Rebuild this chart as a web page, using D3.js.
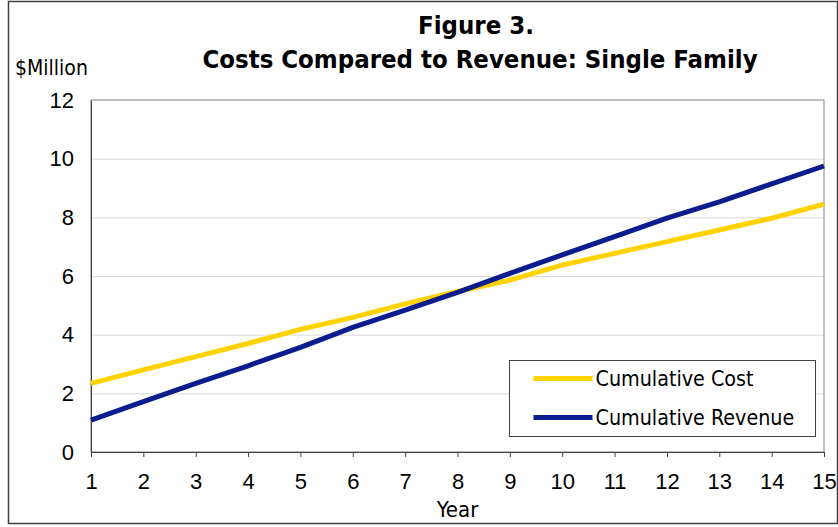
<!DOCTYPE html>
<html>
<head>
<meta charset="utf-8">
<script src="https://cdn.jsdelivr.net/npm/d3@7"></script>
<style>
  body { margin: 0; background: #fff; }
  svg { display: block; font-family: "DejaVu Sans Condensed", "DejaVu Sans", sans-serif; font-stretch: condensed; }
</style>
</head>
<body>
<div class="chartwrap"></div>
<script>
var width = 838, height = 527;

// data
var years = [1, 2, 3, 4, 5, 6, 7, 8, 9, 10, 11, 12, 13, 14, 15];
var cumulativeCost    = [2.34, 2.80, 3.25, 3.70, 4.18, 4.59, 5.05, 5.47, 5.86, 6.37, 6.77, 7.17, 7.57, 7.97, 8.45];
var cumulativeRevenue = [1.09, 1.72, 2.34, 2.94, 3.57, 4.25, 4.84, 5.44, 6.09, 6.72, 7.34, 7.97, 8.53, 9.14, 9.75];
var yTicks = [0, 2, 4, 6, 8, 10, 12];
var seriesNames = ["Cumulative Cost", "Cumulative Revenue"];
var seriesColors = ["#ffd200", "#0a1c8e"];

var margin = {top: 100, left: 91, right: 14, bottom: 75};
var pw = width - margin.left - margin.right,
    ph = height - margin.top - margin.bottom;

var svg = d3.select(".chartwrap").append("svg")
    .attr("width", width)
    .attr("height", height);

// outer frame
svg.append("rect")
    .attr("x", 8.5)
    .attr("y", 1.5)
    .attr("width", width - 9)
    .attr("height", 522)
    .attr("fill", "#fff")
    .attr("stroke", "#404040")
    .attr("stroke-width", 1.5);

var x = d3.scaleLinear()
    .domain([1, 15])
    .range([0, pw]);

var y = d3.scaleLinear()
    .domain([0, 12])
    .range([ph, 0]);

var g = svg.append("g")
    .attr("transform", "translate(" + margin.left + "," + margin.top + ")");

// gridlines
g.append("g")
    .attr("class", "grid")
    .call(d3.axisLeft(y).tickValues(yTicks.slice(1, -1)).tickSize(-pw).tickFormat(""))
    .call(function(s) {
        s.select(".domain").remove();
        s.selectAll(".tick line").attr("stroke", "#d9d9d9").attr("stroke-width", 1);
    });

// plot border
g.append("rect")
    .attr("width", pw)
    .attr("height", ph)
    .attr("fill", "none")
    .attr("stroke", "#808080")
    .attr("stroke-width", 1);

var xAxis = d3.axisBottom(x)
    .tickValues(years)
    .tickSize(5)
    .tickPadding(16)
    .tickFormat(d3.format("d"));

var yAxis = d3.axisLeft(y)
    .tickValues(yTicks)
    .tickSize(0)
    .tickPadding(17);

g.append("g")
    .attr("class", "x axis")
    .attr("transform", "translate(0," + ph + ")")
    .call(xAxis)
    .call(function(s) {
        s.select(".domain").attr("stroke", "#404040");
        s.selectAll(".tick line").attr("stroke", "#404040");
        s.selectAll("text").attr("fill", "#000").style("font-size", "22px")
            .attr("font-family", null);
    });

g.append("g")
    .attr("class", "y axis")
    .call(yAxis)
    .call(function(s) {
        s.select(".domain").attr("stroke", "#404040");
        s.selectAll("text").attr("fill", "#000").style("font-size", "22px")
            .attr("font-family", null);
    });

var line = d3.line()
    .x(function(d) { return x(d[0]); })
    .y(function(d) { return y(d[1]); });

var series = [cumulativeCost, cumulativeRevenue];
series.forEach(function(vals, i) {
    g.append("path")
        .datum(years.map(function(yr, j) { return [yr, vals[j]]; }))
        .attr("fill", "none")
        .attr("stroke", seriesColors[i])
        .attr("stroke-width", 5)
        .attr("d", line);
});

// titles
svg.append("text")
    .attr("x", 476)
    .attr("y", 34)
    .attr("text-anchor", "middle")
    .style("font-size", "25.5px")
    .style("font-weight", "bold")
    .text("Figure 3.");

svg.append("text")
    .attr("x", 480)
    .attr("y", 68)
    .attr("text-anchor", "middle")
    .style("font-size", "25.5px")
    .style("font-weight", "bold")
    .text("Costs Compared to Revenue: Single Family");

svg.append("text")
    .attr("x", 15)
    .attr("y", 75)
    .style("font-size", "21px")
    .text("$Million");

svg.append("text")
    .attr("x", margin.left + pw / 2)
    .attr("y", 517)
    .attr("text-anchor", "middle")
    .style("font-size", "22px")
    .text("Year");

// legend
var legend = svg.append("g")
    .attr("transform", "translate(509.5,360.5)");

legend.append("rect")
    .attr("width", 306)
    .attr("height", 76)
    .attr("fill", "#fff")
    .attr("stroke", "#404040")
    .attr("stroke-width", 1);

var items = legend.selectAll(".legend")
    .data(seriesNames)
    .enter().append("g")
    .attr("class", "legend")
    .attr("transform", function(d, i) { return "translate(0," + (18 + i * 39) + ")"; });

items.append("line")
    .attr("x1", 24)
    .attr("x2", 83)
    .attr("stroke", function(d, i) { return seriesColors[i]; })
    .attr("stroke-width", 5);

items.append("text")
    .attr("x", 86)
    .attr("dy", "0.35em")
    .style("font-size", "21.3px")
    .text(function(d) { return d; });
</script>
</body>
</html>
